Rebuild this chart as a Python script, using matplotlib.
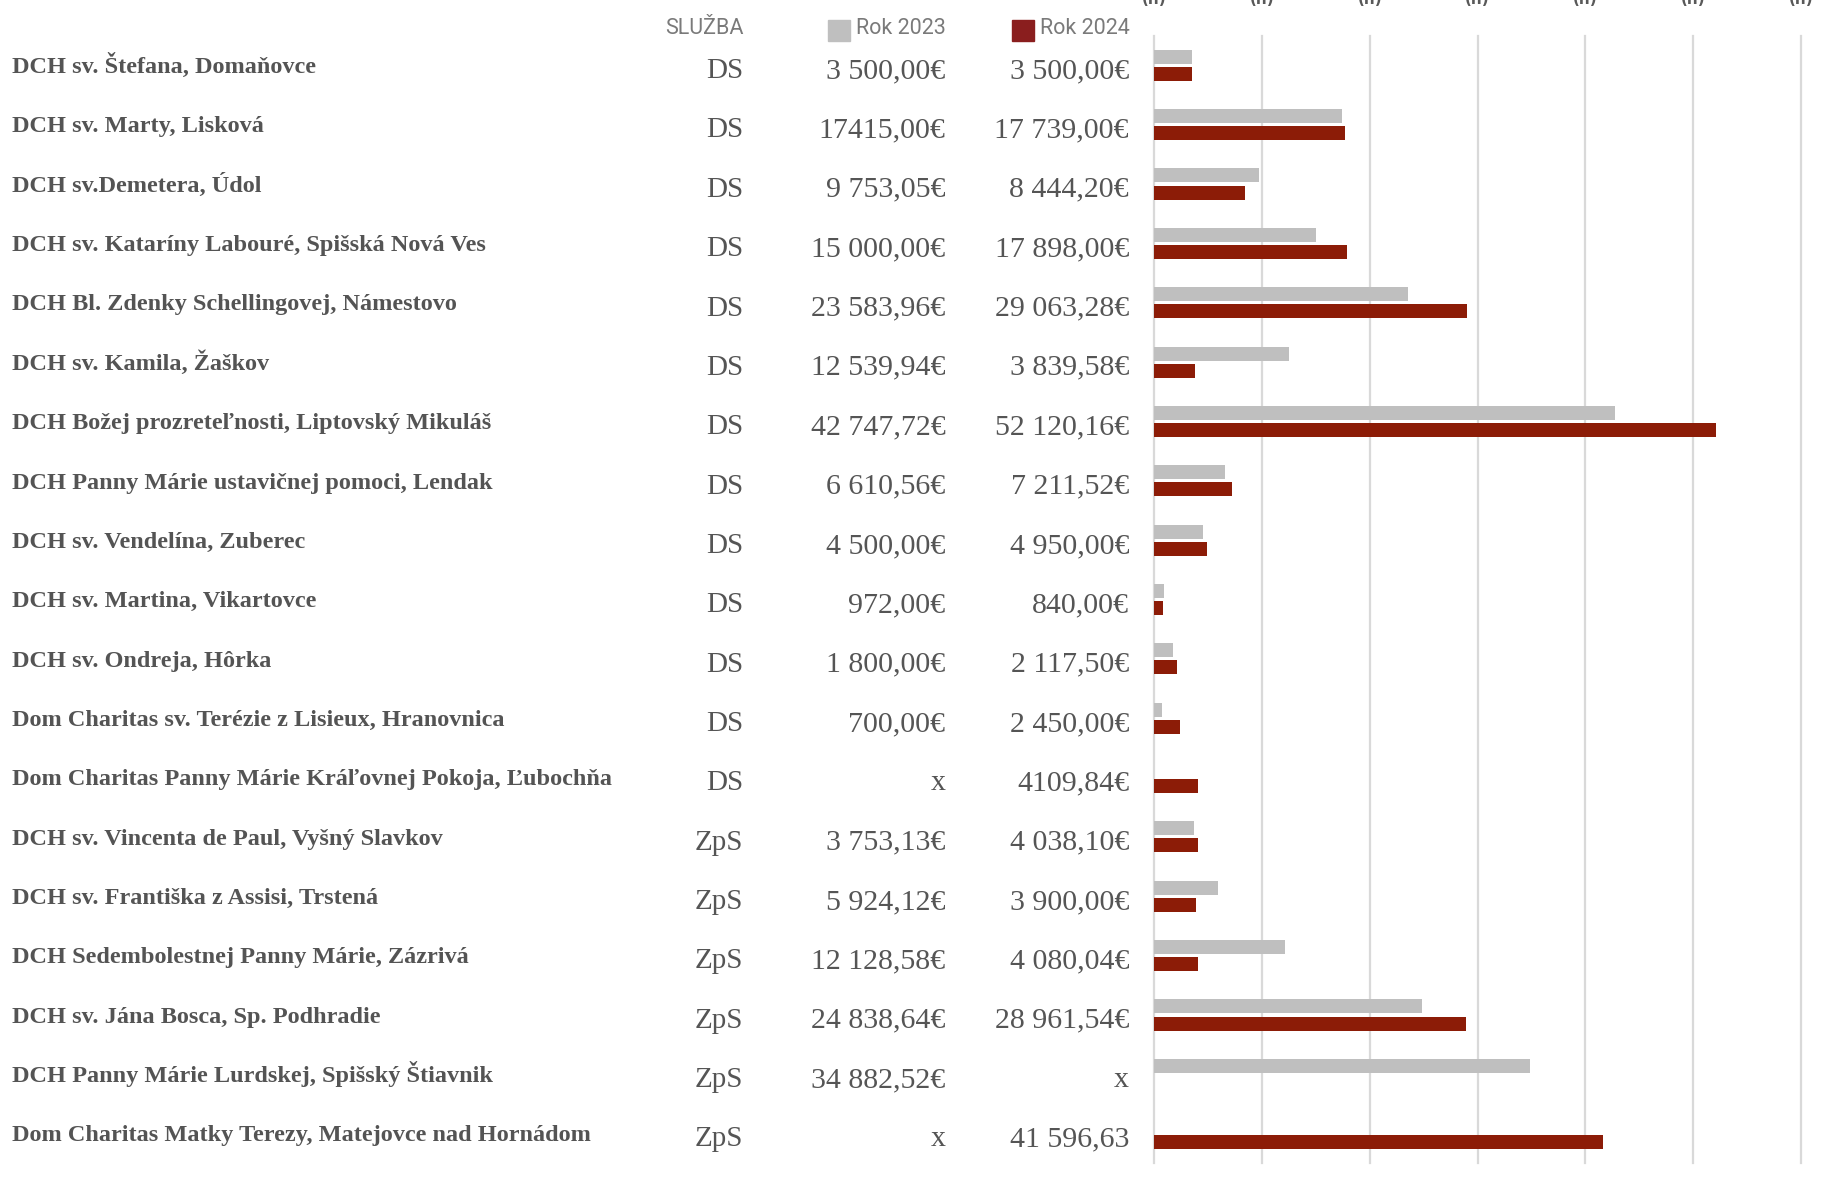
import matplotlib
matplotlib.use("Agg")
import matplotlib.pyplot as plt
import matplotlib.transforms as mtransforms
import numpy as np

names = [
    "DCH sv. Štefana, Domaňovce",
    "DCH sv. Marty, Lisková",
    "DCH sv.Demetera, Údol",
    "DCH sv. Kataríny Labouré, Spišská Nová Ves",
    "DCH Bl. Zdenky Schellingovej, Námestovo",
    "DCH sv. Kamila, Žaškov",
    "DCH Božej prozreteľnosti, Liptovský Mikuláš",
    "DCH Panny Márie ustavičnej pomoci, Lendak",
    "DCH sv. Vendelína, Zuberec",
    "DCH sv. Martina, Vikartovce",
    "DCH sv. Ondreja, Hôrka",
    "Dom Charitas sv. Terézie z Lisieux, Hranovnica",
    "Dom Charitas Panny Márie Kráľovnej Pokoja, Ľubochňa",
    "DCH sv. Vincenta de Paul, Vyšný Slavkov",
    "DCH sv. Františka z Assisi, Trstená",
    "DCH Sedembolestnej Panny Márie, Zázrivá",
    "DCH sv. Jána Bosca, Sp. Podhradie",
    "DCH Panny Márie Lurdskej, Spišský Štiavnik",
    "Dom Charitas Matky Terezy, Matejovce nad Hornádom",
]
services = ["DS"] * 13 + ["ZpS"] * 6

values_2023 = [3500.00, 17415.00, 9753.05, 15000.00, 23583.96, 12539.94, 42747.72,
               6610.56, 4500.00, 972.00, 1800.00, 700.00, np.nan, 3753.13, 5924.12,
               12128.58, 24838.64, 34882.52, np.nan]
values_2024 = [3500.00, 17739.00, 8444.20, 17898.00, 29063.28, 3839.58, 52120.16,
               7211.52, 4950.00, 840.00, 2117.50, 2450.00, 4109.84, 4038.10, 3900.00,
               4080.04, 28961.54, np.nan, 41596.63]

labels_2023 = ["3 500,00€", "17415,00€", "9 753,05€", "15 000,00€", "23 583,96€",
               "12 539,94€", "42 747,72€", "6 610,56€", "4 500,00€", "972,00€",
               "1 800,00€", "700,00€", "x", "3 753,13€", "5 924,12€", "12 128,58€",
               "24 838,64€", "34 882,52€", "x"]
labels_2024 = ["3 500,00€", "17 739,00€", "8 444,20€", "17 898,00€", "29 063,28€",
               "3 839,58€", "52 120,16€", "7 211,52€", "4 950,00€", "840,00€",
               "2 117,50€", "2 450,00€", "4109,84€", "4 038,10€", "3 900,00€",
               "4 080,04€", "28 961,54€", "x", "41 596,63"]

header_service = "SLUŽBA"
legend_labels = ["Rok 2023", "Rok 2024"]
x_ticks = list(range(0, 60001, 10000))

GRAY = "#BFBFBF"
RED = "#8C1C07"
RED_LEG = "#8A1E1E"
TEXT = "#555555"
HEAD = "#7a7a7a"

W, H = 1829, 1187
fig = plt.figure(figsize=(W / 100, H / 100), dpi=100)
ax = fig.add_axes([1154 / W, 1 - 1163.3 / H, (1801 - 1154) / W, (1163.3 - 35.7) / H])

y = np.arange(len(names))
bh = 0.236
off = 0.145
ax.barh(y - off, values_2023, height=bh, color=GRAY, zorder=3)
ax.barh(y + off, values_2024, height=bh, color=RED, zorder=3)

ax.set_xlim(0, 60000)
ax.set_ylim(18.5, -0.5)
for t in x_ticks:
    ax.axvline(t, color="#D9D9D9", lw=1.6, zorder=1, clip_on=False)
for s in ax.spines.values():
    s.set_visible(False)
ax.set_xticks([])
ax.set_yticks([])

tr = mtransforms.blended_transform_factory(fig.transFigure, ax.transData)
serif = "Liberation Serif"
for i in range(len(names)):
    ax.text(12 / W, i + 0.13, names[i], transform=tr, ha="left", va="baseline",
            fontfamily=serif, fontweight="bold", fontsize=17.5, color="#545454", clip_on=False)
    ax.text(743.5 / W, i + 0.215, services[i], transform=tr, ha="right", va="baseline",
            fontfamily=serif, fontsize=21, color=TEXT, clip_on=False)
    ax.text(945.5 / W, i + 0.215, labels_2023[i], transform=tr, ha="right", va="baseline",
            fontfamily=serif, fontsize=21.5, color=TEXT, clip_on=False)
    ax.text(1129 / W, i + 0.215, labels_2024[i], transform=tr, ha="right", va="baseline",
            fontfamily=serif, fontsize=21.5, color=TEXT, clip_on=False)

# header
hy = 1 - 29 / H
fig.text(744 / W, hy, header_service, ha="right", va="center", fontfamily="Roboto",
         fontsize=15.5, color=HEAD)
for lab, right, sqx, col in [(legend_labels[0], 945.5, 828, GRAY), (legend_labels[1], 1130, 1012, RED_LEG)]:
    fig.text(right / W, hy, lab, ha="right", va="center", fontfamily="Roboto",
             fontsize=15.5, color=HEAD)
    fig.patches.append(plt.Rectangle((sqx / W, 1 - 41 / H), 22 / W, 21 / H,
                                     transform=fig.transFigure, color=col))

# top tick labels, cropped by the top edge as in the reference
trx = mtransforms.blended_transform_factory(ax.transData, fig.transFigure)
for t in x_ticks:
    ax.text(t, 1 - 7 / H, "(n)", transform=trx, ha="center", va="bottom",
            fontsize=11, fontweight="bold", color="#595959", clip_on=False)

fig.savefig("out.png", dpi=100, facecolor="white")
